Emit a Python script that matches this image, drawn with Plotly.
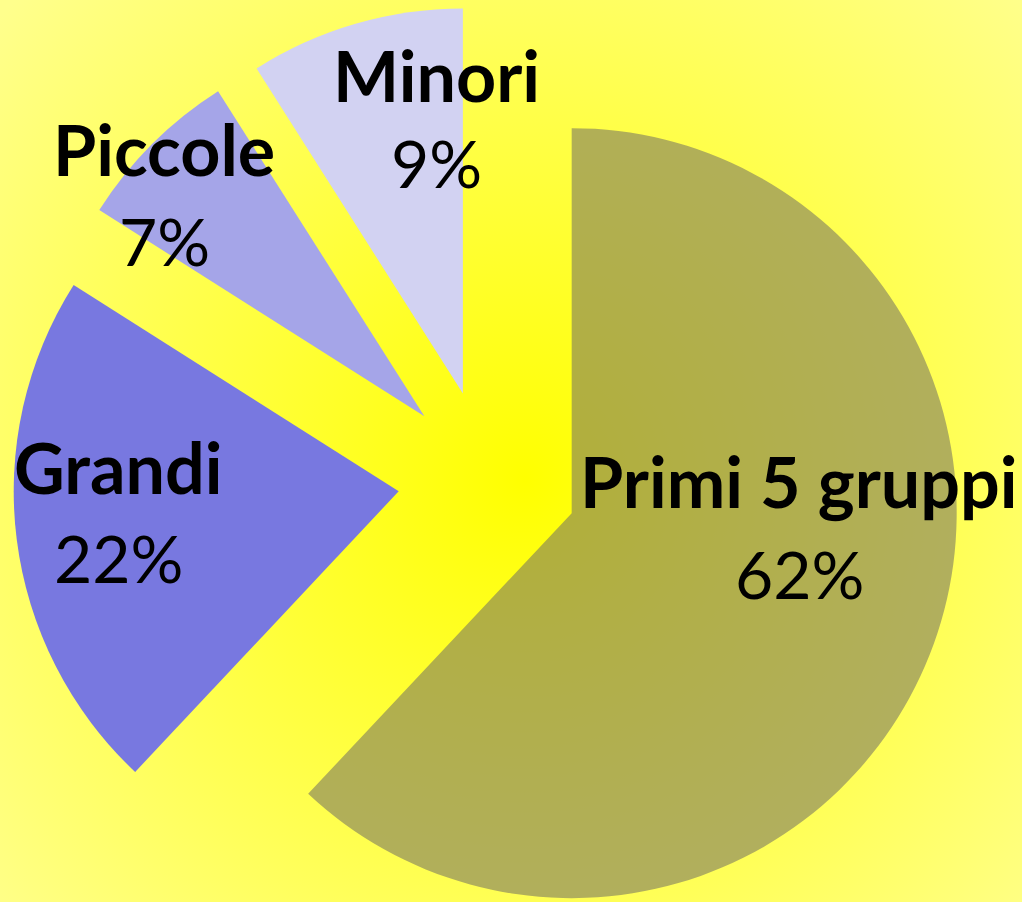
import math
import base64
import plotly.graph_objects as go

# data
labels = ["Primi 5 gruppi", "Grandi", "Piccole", "Minori"]
values = [62, 22, 7, 9]
colors = ["rgba(118,114,98,0.57)", "#7878e0", "#a5a5e8", "#d2d2f2"]

W, H = 1022, 902
CX, CY = 488, 480      # centre of the un-exploded pie, px
R = 385                # radius, px
EXPLODE = 90           # how far every slice is pulled out, px

# label placement (px): centre x, name line y, percent line y
label_pos = [(799, 481, 573), (118, 467, 557), (164, 149, 240), (436, 75, 163)]

# radial yellow background
svg = (
    f'<svg xmlns="http://www.w3.org/2000/svg" width="{W}" height="{H}">'
    '<defs><radialGradient id="g" gradientUnits="userSpaceOnUse" '
    'cx="525" cy="480" r="700">'
    '<stop offset="0" stop-color="#ffff00"/>'
    '<stop offset="1" stop-color="#ffff8c"/>'
    '</radialGradient></defs>'
    '<rect width="100%" height="100%" fill="url(#g)"/></svg>'
)
bg_src = "data:image/svg+xml;base64," + base64.b64encode(svg.encode()).decode()

fig = go.Figure()

total = sum(values)
start = 0.0
for i, lab in enumerate(labels):
    # each slice is its own pie, shifted along its mid angle (exploded look)
    mid = (start + values[i] / 2) / total * 2 * math.pi
    start += values[i]
    px = CX + EXPLODE * math.sin(mid)
    py = CY - EXPLODE * math.cos(mid)
    dom_x = [max(0, (px - R) / W), min(1, (px + R) / W)]
    dom_y = [max(0, 1 - (py + R) / H), min(1, 1 - (py - R) / H)]

    slice_colors = ["rgba(0,0,0,0)"] * len(labels)
    slice_colors[i] = colors[i]

    fig.add_trace(go.Pie(
        labels=labels,
        values=values,
        sort=False,
        direction="clockwise",
        rotation=0,
        marker=dict(colors=slice_colors, line=dict(width=0)),
        textinfo="none",
        hoverinfo="label+percent",
        showlegend=False,
        domain=dict(x=dom_x, y=dom_y),
    ))

for lab, val, (lx, ny, py_) in zip(labels, values, label_pos):
    fig.add_annotation(
        x=lx / W, y=1 - ny / H, xref="paper", yref="paper",
        text=f"<b>{lab}</b>", showarrow=False,
        xanchor="center", yanchor="middle",
        font=dict(family="Lato", size=70, color="black"),
    )
    fig.add_annotation(
        x=lx / W, y=1 - py_ / H, xref="paper", yref="paper",
        text=f"{val / total:.0%}", showarrow=False,
        xanchor="center", yanchor="middle",
        font=dict(family="Lato", size=66, color="black"),
    )

fig.add_layout_image(
    source=bg_src, xref="paper", yref="paper",
    x=0, y=1, sizex=1, sizey=1, sizing="stretch", layer="below",
)

fig.update_layout(
    width=W, height=H,
    margin=dict(l=0, r=0, t=0, b=0),
    paper_bgcolor="#ffff60",
    plot_bgcolor="rgba(0,0,0,0)",
)

# drop the page's default body margin so the figure fills the window
fig.write_html(
    "out.html",
    config={"displayModeBar": False},
    post_script="document.body.style.margin='0';",
)
